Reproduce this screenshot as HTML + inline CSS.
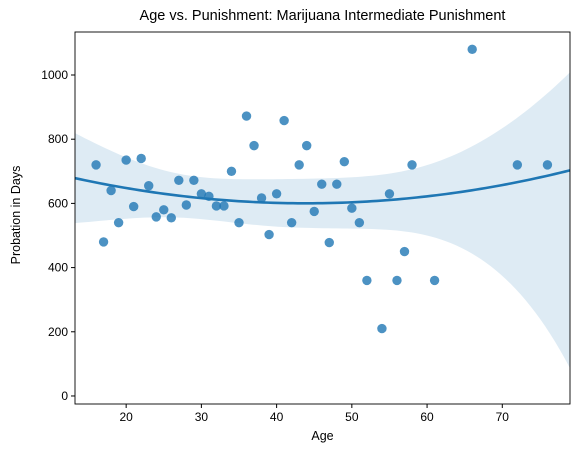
<!DOCTYPE html>
<html><head><meta charset="utf-8"><style>
body{margin:0;background:#fff;font-family:"Liberation Sans","DejaVu Sans",sans-serif;}
</style></head><body>
<svg id="c" width="580" height="455" style="position:absolute;left:0;top:0"></svg>
<script>
const ages=[16,17,18,19,20,21,22,23,24,25,26,27,28,29,30,31,32,33,34,35,36,37,38,39,40,41,42,43,44,45,46,47,48,49,50,51,52,54,55,56,57,58,61,66,72,76];
const days=[720,480,640,540,735,590,740,655,558,580,555,672,595,672,630,622,592,592,700,540,872,780,617,503,630,858,540,720,780,575,660,478,660,730,585,540,360,210,630,360,450,720,360,1080,720,720];
const xTicks=[20,30,40,50,60,70];
const yTicks=[0,200,400,600,800,1000];
const L=75,R=570,T=32,B=404,xMin=13.2,xMax=79,yMin=-25,yMax=1134;
const sx=v=>L+(v-xMin)/(xMax-xMin)*(R-L);
const sy=v=>B-(v-yMin)/(yMax-yMin)*(B-T);
const NS="http://www.w3.org/2000/svg";const svg=document.getElementById('c');
function mk(t,a,p){const e=document.createElementNS(NS,t);for(const k in a)e.setAttribute(k,a[k]);(p||svg).appendChild(e);return e;}
const n=ages.length;const S=[0,0,0,0,0],Sy=[0,0,0];
ages.forEach((x,i)=>{for(let k=0;k<5;k++)S[k]+=x**k;for(let k=0;k<3;k++)Sy[k]+=days[i]*x**k;});
const M=[[S[0],S[1],S[2]],[S[1],S[2],S[3]],[S[2],S[3],S[4]]];
function inv3(m){const[a,b,c]=m[0],[d,e,f]=m[1],[g,h,i]=m[2];const A=e*i-f*h,B1=-(d*i-f*g),C=d*h-e*g;const det=a*A+b*B1+c*C;
return [[A/det,-(b*i-c*h)/det,(b*f-c*e)/det],[B1/det,(a*i-c*g)/det,-(a*f-c*d)/det],[C/det,-(a*h-b*g)/det,(a*e-b*d)/det]];}
const Mi=inv3(M);const beta=[0,1,2].map(r=>Mi[r][0]*Sy[0]+Mi[r][1]*Sy[1]+Mi[r][2]*Sy[2]);
const f=x=>beta[0]+beta[1]*x+beta[2]*x*x;
let rss=0;ages.forEach((x,i)=>rss+=(days[i]-f(x))**2);const s=Math.sqrt(rss/(n-3));
const se=x=>{const v=[1,x,x*x];let q=0;for(let r=0;r<3;r++)for(let c=0;c<3;c++)q+=v[r]*Mi[r][c]*v[c];return s*Math.sqrt(q);};
const inflUp=x=>x<42?1.25-0.0003*(42-x)*(42-x):1.25+0.00006*(x-42)*(x-42);
const inflLo=x=>x<42?1.25-0.0003*(42-x)*(42-x):1.25+0.00105*(x-42)*(x-42);
const clip=mk('clipPath',{id:'cp'});mk('rect',{x:L,y:T,width:R-L,height:B-T},clip);
const g=mk('g',{'clip-path':'url(#cp)'});
let up=[],lo=[],ln=[];for(let k=0;k<=100;k++){const x=xMin+(xMax-xMin)*k/100;const w=2.01*se(x);up.push(sx(x)+','+sy(f(x)+w*inflUp(x)));lo.push(sx(x)+','+sy(f(x)-w*inflLo(x)));ln.push(sx(x)+','+sy(f(x)));}
const band=mk('polygon',{points:up.concat(lo.reverse()).join(' '),fill:'#1f77b4','fill-opacity':0.15},g);

ages.forEach((x,i)=>{const c=mk('circle',{cx:sx(x),cy:sy(days[i]),r:4.7,fill:'#1f77b4','fill-opacity':0.8},g);
});
const rl=mk('polyline',{points:ln.join(' '),fill:'none',stroke:'#1f77b4','stroke-width':2.6},g);

const fr=mk('rect',{x:L,y:T,width:R-L,height:B-T,fill:'none',stroke:'#000','stroke-width':0.9});

xTicks.forEach(v=>{mk('line',{x1:sx(v),x2:sx(v),y1:B,y2:B+4,stroke:'#000'});const t=mk('text',{x:sx(v),y:B+17,'text-anchor':'middle','font-size':12,fill:'#000'});t.textContent=v;
});
yTicks.forEach(v=>{mk('line',{x1:L-4,x2:L,y1:sy(v),y2:sy(v),stroke:'#000'});const t=mk('text',{x:L-7,y:sy(v)+4,'text-anchor':'end','font-size':12,fill:'#000'});t.textContent=v;
});
</script>
<div style="position:absolute;left:75px;width:495px;top:8px;text-align:center;font-size:14.5px">Age vs. Punishment: Marijuana Intermediate Punishment</div>
<div style="position:absolute;left:75px;width:495px;top:429px;text-align:center;font-size:12.5px">Age</div>
<div style="position:absolute;left:-44px;top:208px;width:120px;text-align:center;font-size:12.5px;transform:rotate(-90deg)">Probation in Days</div>
</body></html>
